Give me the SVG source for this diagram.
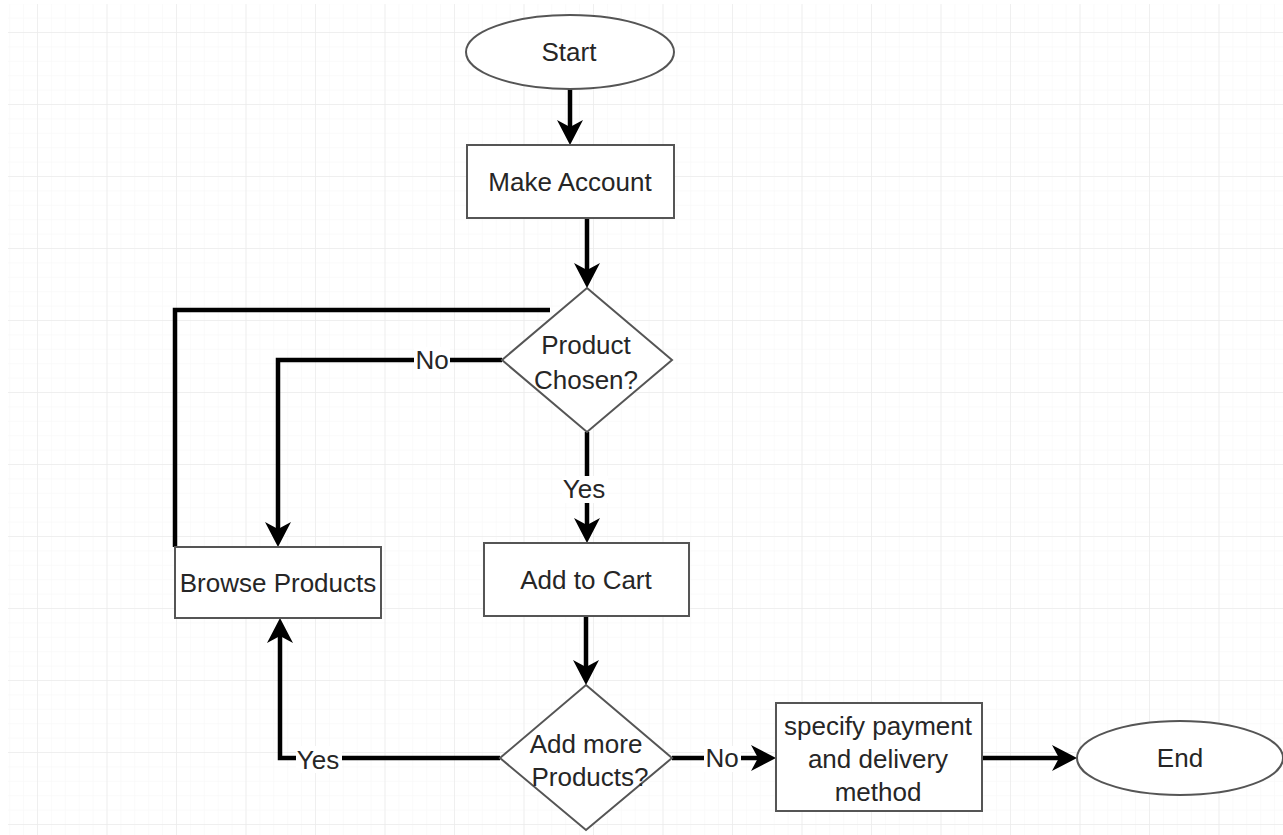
<svg xmlns="http://www.w3.org/2000/svg" width="1283" height="835" viewBox="0 0 1283 835">
<defs>
<pattern id="minor" x="37" y="32" width="13.9" height="14.4" patternUnits="userSpaceOnUse">
<path d="M0,0 H13.9 M0,0 V14.4" fill="none" stroke="#f6f6f6" stroke-width="1"/>
</pattern>
<pattern id="major" x="37" y="32" width="69.5" height="72" patternUnits="userSpaceOnUse">
<path d="M0,0 H69.5 M0,0 V72" fill="none" stroke="#ebebeb" stroke-width="1.5"/>
</pattern>
<marker id="arr" markerUnits="userSpaceOnUse" markerWidth="28" markerHeight="28" refX="19" refY="13" orient="auto">
<path d="M0,0 L25,13 L0,26 L7,13 z" fill="#000"/>
</marker>
<style>
.node{fill:#fff;stroke:#555;stroke-width:2}
.t{font-family:"Liberation Sans",Arial,sans-serif;font-size:26px;fill:#262626;text-anchor:middle;dominant-baseline:central}
.c{fill:none;stroke:#000;stroke-width:4.5}
.a{marker-end:url(#arr)}
.lb{fill:#fff}
</style>
</defs>
<rect width="1283" height="835" fill="#fff"/>
<rect x="8" y="4" width="1275" height="831" fill="url(#minor)"/>
<rect x="8" y="4" width="1275" height="831" fill="url(#major)"/>

<g id="connectors">
<path class="c a" d="M570,88 V139"/>
<path class="c a" d="M587,218 V282"/>
<path class="c" d="M550,310 H175 V547"/>
<path class="c a" d="M502,360 H278 V541"/>
<path class="c a" d="M587,432 V537"/>
<path class="c a" d="M586,616 V679"/>
<path class="c a" d="M500,758 H280 V624"/>
<path class="c a" d="M672,758 H770"/>
<path class="c a" d="M982,758 H1071"/>
<g id="labels">
<rect class="lb" x="414" y="347" width="36" height="26"/>
<text class="t" x="432" y="360">No</text>
<rect class="lb" x="562" y="476" width="46" height="27"/>
<text class="t" x="584" y="489">Yes</text>
<rect class="lb" x="296" y="746" width="46" height="27"/>
<text class="t" x="318" y="760">Yes</text>
<rect class="lb" x="704" y="746" width="37" height="26"/>
<text class="t" x="722" y="758">No</text>
</g>
</g>

<g id="start">
<ellipse class="node" cx="570" cy="52" rx="104" ry="37"/>
<text class="t" x="569" y="52">Start</text>
</g>
<g id="make-account">
<rect class="node" x="467" y="145" width="207" height="73"/>
<text class="t" x="570" y="182">Make Account</text>
</g>
<g id="product-chosen">
<polygon class="node" points="587,288 672,360 587,432 502,360"/>
<text class="t" x="586" y="345">Product</text>
<text class="t" x="586" y="380">Chosen?</text>
</g>
<g id="browse-products">
<rect class="node" x="175" y="547" width="206" height="71"/>
<text class="t" x="278" y="583">Browse Products</text>
</g>
<g id="add-to-cart">
<rect class="node" x="484" y="543" width="205" height="73"/>
<text class="t" x="586" y="580">Add to Cart</text>
</g>
<g id="add-more">
<polygon class="node" points="586,685 672,758 586,830 500,758"/>
<text class="t" x="586" y="744">Add more</text>
<text class="t" x="590" y="777">Products?</text>
</g>
<g id="specify-payment">
<rect class="node" x="776" y="703" width="206" height="108"/>
<text class="t" x="878" y="726">specify payment</text>
<text class="t" x="878" y="759">and delivery</text>
<text class="t" x="878" y="792">method</text>
</g>
<g id="end">
<ellipse class="node" cx="1180" cy="758" rx="103" ry="37"/>
<text class="t" x="1180" y="758">End</text>
</g>
</svg>
